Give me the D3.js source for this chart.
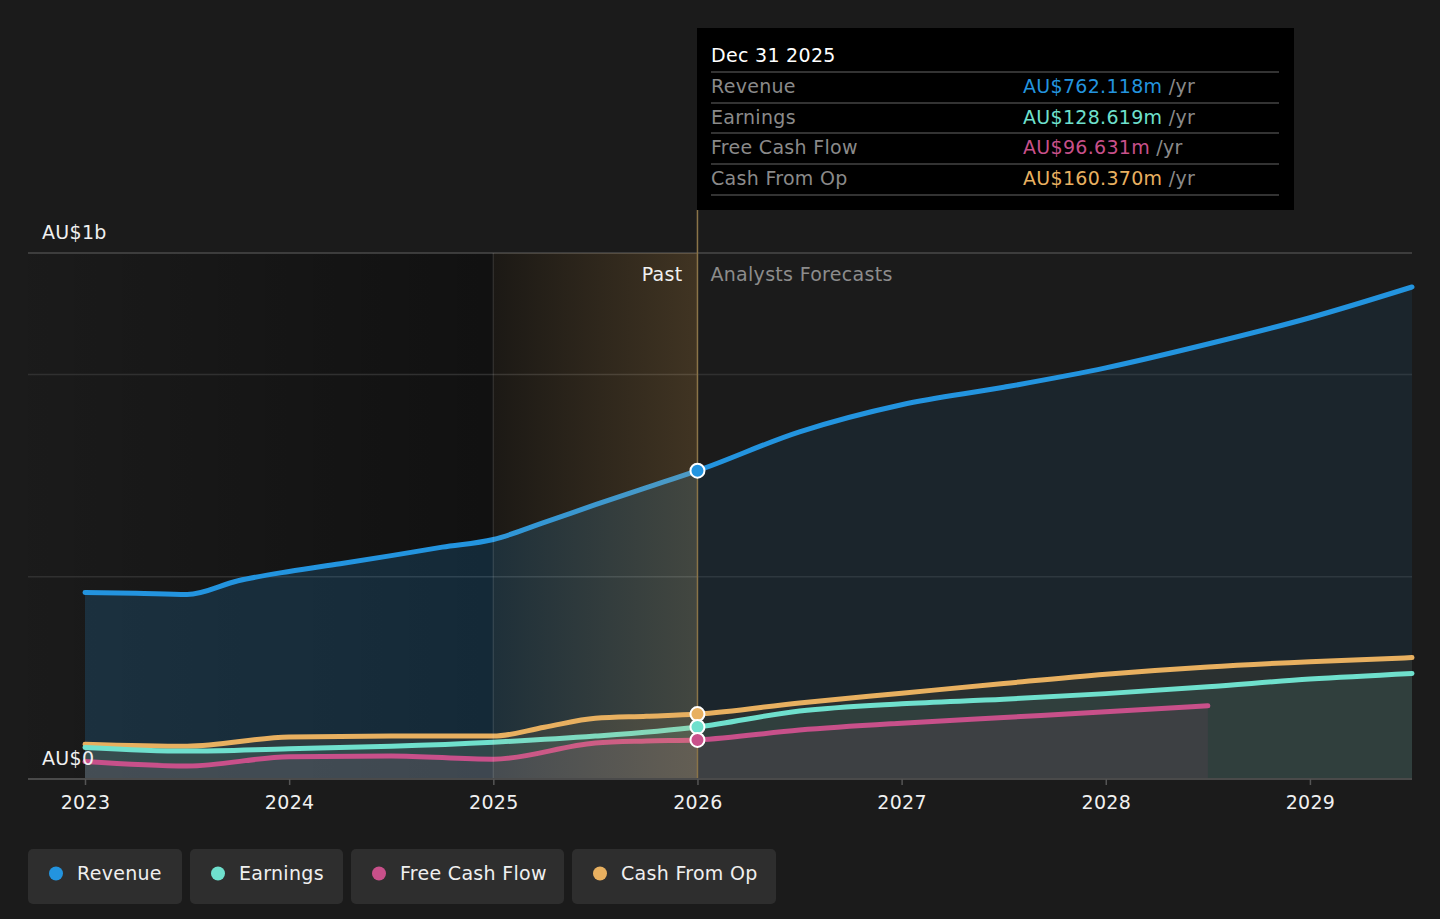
<!DOCTYPE html>
<html><head><meta charset="utf-8">
<script src="https://cdn.jsdelivr.net/npm/d3@7"></script>
<style>
html,body{margin:0;padding:0;background:#1b1b1b;}
svg{display:block;font-family:"DejaVu Sans",sans-serif;letter-spacing:0.3px;}
</style></head>
<body>
<svg id="chart" width="1440" height="919"></svg>
<script>
// ---- data (AU$ millions) ----
const seriesNames = ["Revenue", "Earnings", "Free Cash Flow", "Cash From Op"];
const seriesColors = ["#2394df", "#6fe0cd", "#c8508a", "#e8b060"];
const yearTicks = [2023, 2024, 2025, 2026, 2027, 2028, 2029];

const revenueDates = [2023, 2023.25, 2023.5, 2023.75, 2024, 2024.25, 2024.5, 2024.75, 2025, 2025.25, 2025.5, 2025.75, 2026, 2026.5, 2027, 2027.5, 2028, 2028.5, 2029, 2029.5];
const revenueValues = [461, 459, 456, 490, 513, 532, 552, 573, 592, 634, 678, 720, 762.118, 858, 925, 968, 1016, 1075, 1140, 1216];

const earningsDates = [2023, 2023.5, 2024, 2024.5, 2025, 2025.5, 2026, 2026.5, 2027, 2027.5, 2028, 2028.5, 2029, 2029.5];
const earningsValues = [78, 69, 75, 81, 91, 106, 128.619, 168, 186, 197, 211, 228, 247, 261];

const fcfDates = [2023, 2023.5, 2024, 2024.5, 2025, 2025.5, 2025.75, 2026, 2026.5, 2027, 2027.5, 2028, 2028.5];
const fcfValues = [43, 32, 55, 57, 49, 89, 94, 96.631, 121, 138, 152, 166, 181];

const cfoDates = [2023, 2023.5, 2024, 2024.5, 2025, 2025.25, 2025.5, 2025.75, 2026, 2026.5, 2027, 2027.5, 2028, 2028.5, 2029, 2029.5];
const cfoValues = [86, 81, 104, 106, 106, 128, 150, 155, 160.37, 188, 212, 236, 259, 277, 290, 300];

const tooltipDate = "Dec 31 2025";
const tooltipValues = ["AU$762.118m", "AU$128.619m", "AU$96.631m", "AU$160.370m"];
const nowDate = 2026;
const bandStart = 2025;

// ---- layout ----
const svg = d3.select("#chart");
const pL = 28, pR = 1412, pT = 253, pB = 779;
const x = d3.scaleLinear().domain([2023, 2029.5]).range([85, 1412]);
const y = d3.scaleLinear().domain([0, 1300]).range([pB, pT]);
const xNow = x(nowDate), xBand = x(bandStart);

const defs = svg.append("defs");
const pastGrad = defs.append("linearGradient").attr("id","pastGrad").attr("x1","0").attr("x2","1").attr("y1","0").attr("y2","0");
pastGrad.append("stop").attr("offset","0").attr("stop-color","#000").attr("stop-opacity",0.02);
pastGrad.append("stop").attr("offset","1").attr("stop-color","#000").attr("stop-opacity",0.38);
const bandGrad = defs.append("linearGradient").attr("id","bandGrad").attr("x1","0").attr("x2","1").attr("y1","0").attr("y2","0");
bandGrad.append("stop").attr("offset","0").attr("stop-color","#e8b060").attr("stop-opacity",0.05);
bandGrad.append("stop").attr("offset","1").attr("stop-color","#e8b060").attr("stop-opacity",0.22);
defs.append("clipPath").attr("id","clipPast").append("rect").attr("x",pL).attr("y",0).attr("width",xNow-pL).attr("height",pB);
defs.append("clipPath").attr("id","clipFut").append("rect").attr("x",xNow).attr("y",0).attr("width",pR-xNow).attr("height",pB);

// dark past background
svg.append("rect").attr("x",pL).attr("y",pT).attr("width",xBand-pL).attr("height",pB-pT).attr("fill","url(#pastGrad)");
svg.append("rect").attr("x",xBand).attr("y",pT).attr("width",xNow-xBand).attr("height",pB-pT).attr("fill","#000").attr("opacity",0.36);

// gridlines
[0, 500, 1000].forEach(v => {
  svg.append("line").attr("x1",pL).attr("x2",pR).attr("y1",y(v)).attr("y2",y(v)).attr("stroke","#303030").attr("stroke-width",1.5);
});
svg.append("line").attr("x1",pL).attr("x2",pR).attr("y1",y(1300)).attr("y2",y(1300)).attr("stroke","#4a4a4a").attr("stroke-width",1.5);

// series
const series = [
  {d: revenueDates, v: revenueValues},
  {d: earningsDates, v: earningsValues},
  {d: fcfDates, v: fcfValues},
  {d: cfoDates, v: cfoValues}
].map((s,i) => ({name: seriesNames[i], color: seriesColors[i], pts: s.d.map((dd,j)=>({t:dd, v:s.v[j]}))}));

const area = d3.area().x(p=>x(p.t)).y0(y(0)).y1(p=>y(p.v)).curve(d3.curveMonotoneX);
const line = d3.line().x(p=>x(p.t)).y(p=>y(p.v)).curve(d3.curveMonotoneX);

const fillPast = [0.19, 0.10, 0.10, 0.10];
const fillFut = [0.09, 0.09, 0.09, 0.08];
const order = [0, 3, 1, 2];
order.forEach(i => {
  const s = series[i];
  svg.append("path").attr("d", area(s.pts)).attr("fill", s.color).attr("fill-opacity", fillPast[i]).attr("clip-path","url(#clipPast)");
  svg.append("path").attr("d", area(s.pts)).attr("fill", s.color).attr("fill-opacity", fillFut[i]).attr("clip-path","url(#clipFut)");
});
order.forEach(i => {
  const s = series[i];
  svg.append("path").attr("d", line(s.pts)).attr("fill","none").attr("stroke", s.color).attr("stroke-width",5).attr("stroke-linecap","round");
});

// highlighted band overlay
svg.append("rect").attr("x",xBand).attr("y",pT).attr("width",xNow-xBand).attr("height",pB-pT).attr("fill","url(#bandGrad)");
svg.append("line").attr("x1",xBand).attr("x2",xBand).attr("y1",pT).attr("y2",pB).attr("stroke","#ffffff").attr("stroke-opacity",0.1).attr("stroke-width",1.5);
svg.append("line").attr("x1",xNow).attr("x2",xNow).attr("y1",210).attr("y2",pB).attr("stroke","#8a7448").attr("stroke-width",1.5);

// axis
svg.append("line").attr("x1",pL).attr("x2",pR).attr("y1",pB).attr("y2",pB).attr("stroke","#4a4a4a").attr("stroke-width",2);
const xAxis = d3.axisBottom(x).tickValues(yearTicks).tickFormat(d3.format("d")).tickSize(6).tickPadding(11);
const ax = svg.append("g").attr("transform",`translate(0,${pB})`).call(xAxis);
ax.select(".domain").remove();
ax.selectAll(".tick line").attr("stroke","#555").attr("stroke-width",1.5);
ax.selectAll(".tick text").attr("fill","#f0f0f0").attr("font-size",19).attr("font-family","DejaVu Sans");

// y labels
svg.append("text").attr("x",42).attr("y",239).attr("fill","#f0f0f0").attr("font-size",19).text("AU$1b");
svg.append("text").attr("x",42).attr("y",765).attr("fill","#f0f0f0").attr("font-size",19).text("AU$0");

// past / forecast labels
svg.append("text").attr("x",xNow-15).attr("y",281).attr("text-anchor","end").attr("fill","#f0f0f0").attr("font-size",19).text("Past");
svg.append("text").attr("x",xNow+13).attr("y",281).attr("fill","#8c8c8c").attr("font-size",19).text("Analysts Forecasts");

// markers
[3,1,2,0].forEach(i => {
  const s = series[i];
  const p = s.pts.find(q => q.t === nowDate);
  svg.append("circle").attr("cx",x(p.t)).attr("cy",y(p.v)).attr("r",7).attr("fill",s.color).attr("stroke","#fff").attr("stroke-width",2);
});

// tooltip
const tt = svg.append("g");
tt.append("rect").attr("x",697).attr("y",28).attr("width",597).attr("height",182).attr("fill","#000");
tt.append("text").attr("x",711).attr("y",62).attr("fill","#fff").attr("font-size",19).text(tooltipDate);
const rowY = [72, 103, 133, 164, 195];
rowY.forEach(yy => tt.append("line").attr("x1",711).attr("x2",1279).attr("y1",yy).attr("y2",yy).attr("stroke","#444").attr("stroke-width",1.5));
seriesNames.forEach((n,i) => {
  const by = rowY[i] + 21;
  tt.append("text").attr("x",711).attr("y",by).attr("fill","#8a8a8a").attr("font-size",19).text(n);
  const t = tt.append("text").attr("x",1023).attr("y",by).attr("font-size",19);
  t.append("tspan").attr("fill",seriesColors[i]).text(tooltipValues[i]);
  t.append("tspan").attr("fill","#8a8a8a").text(" /yr");
});

// legend
const legendX = [28, 190, 351, 572];
const legendW = [154, 153, 213, 204];
seriesNames.forEach((n,i) => {
  const g = svg.append("g").attr("transform",`translate(${legendX[i]},849)`);
  g.append("rect").attr("width",legendW[i]).attr("height",55).attr("rx",5).attr("fill","#2e2e2e");
  g.append("circle").attr("cx",28).attr("cy",24.5).attr("r",7).attr("fill",seriesColors[i]);
  g.append("text").attr("x",49).attr("y",31).attr("fill","#f0f0f0").attr("font-size",19).text(n);
});
</script>
</body></html>
